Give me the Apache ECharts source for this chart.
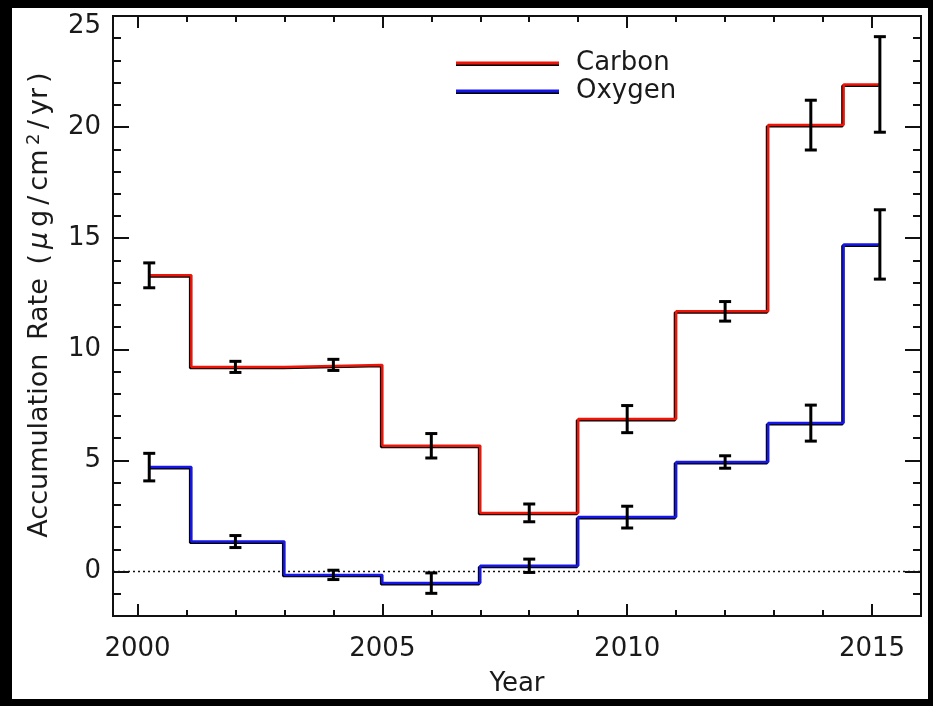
<!DOCTYPE html>
<html>
<head>
<meta charset="utf-8">
<script src="https://cdn.jsdelivr.net/npm/echarts@6/dist/echarts.min.js"></script>
<style>
html,body{margin:0;padding:0;background:#000;}
#c{width:933px;height:706px;}
</style>
</head>
<body>
<div id="c"></div>
<script>
// ---- data ----
const stepEdges = [2000.24, 2001.10, 2003.00, 2005.00, 2007.00, 2009.00, 2011.00, 2012.88, 2014.42, 2015.16];
const carbon = [13.33, 9.21, 9.30, 5.66, 2.64, 6.86, 11.71, 20.09, 21.92];
const oxygen = [4.70, 1.35, -0.15, -0.52, 0.26, 2.45, 4.93, 6.68, 14.72];
const errYears = [2000.24, 2002.0, 2004.0, 2006.0, 2008.0, 2010.0, 2012.0, 2013.75, 2015.16];
const carbonErr = [0.56, 0.25, 0.25, 0.55, 0.40, 0.61, 0.44, 1.12, 2.15];
const oxygenErr = [0.62, 0.27, 0.21, 0.46, 0.30, 0.49, 0.28, 0.81, 1.56];
const xMajorTicks = [2000, 2005, 2010, 2015];
const xMinorTicks = [2000, 2001, 2002, 2003, 2004, 2005, 2006, 2007, 2008, 2009, 2010, 2011, 2012, 2013, 2014, 2015, 2016];
const yMajorTicks = [0, 5, 10, 15, 20, 25];
const yMinorTicks = [-2, -1, 0, 1, 2, 3, 4, 5, 6, 7, 8, 9, 10, 11, 12, 13, 14, 15, 16, 17, 18, 19, 20, 21, 22, 23, 24, 25];

function stepData(vals) {
  const d = vals.map((v, i) => [stepEdges[i], v]);
  d.push([stepEdges[stepEdges.length - 1], vals[vals.length - 1]]);
  return d;
}
function errData(vals, errs) {
  return errYears.map((x, i) => [x, vals[i], errs[i]]);
}

const FONT = 'DejaVu Sans';
const TXT = '#1a1a1a';
const chart = echarts.init(document.getElementById('c'));

function xAx(pos, ticks, len, labels) {
  return {
    type: 'value', position: pos, min: 1999.5, max: 2016, gridIndex: 0,
    axisLine: { show: true, onZero: false, lineStyle: { color: '#111', width: 2 } },
    axisTick: { show: true, inside: true, length: len, customValues: ticks, lineStyle: { color: '#111', width: 2 } },
    axisLabel: labels ? { show: true, customValues: ticks, formatter: v => String(v), fontFamily: FONT, fontSize: 26, color: TXT, margin: 20 } : { show: false },
    splitLine: { show: false }
  };
}
function yAx(pos, ticks, len, labels) {
  return {
    type: 'value', position: pos, min: -2, max: 25, gridIndex: 0,
    axisLine: { show: true, onZero: false, lineStyle: { color: '#111', width: 2 } },
    axisTick: { show: true, inside: true, length: len, customValues: ticks, lineStyle: { color: '#111', width: 2 } },
    axisLabel: labels ? {
      show: true, customValues: ticks, fontFamily: FONT, fontSize: 26, color: TXT, margin: 12,
      formatter: v => v === 25 ? '{t|25}' : String(v),
      rich: { t: { fontFamily: FONT, fontSize: 26, color: TXT, padding: [20, 0, 0, 0] } }
    } : { show: false },
    splitLine: { show: false }
  };
}

const xAxes = [xAx('bottom', xMajorTicks, 12, true), xAx('bottom', xMinorTicks, 6, false), xAx('top', xMajorTicks, 12, false), xAx('top', xMinorTicks, 6, false)];
xAxes[0].name = 'Year';
xAxes[0].nameLocation = 'middle';
xAxes[0].nameGap = 55;
xAxes[0].nameTextStyle = { fontFamily: FONT, fontSize: 26, color: TXT };

const yAxes = [yAx('left', yMajorTicks, 16, true), yAx('left', yMinorTicks, 8, false), yAx('right', yMajorTicks, 16, false), yAx('right', yMinorTicks, 8, false)];
const T = { fontFamily: FONT, fontSize: 27, color: TXT, padding: [0, 2.5] };
yAxes[0].name = '{a|Accumulation} {a|Rate} {a|(}{i|μ}{a|g}{a|/}{a|cm}{s|2}{a|/}{a|yr}{a|)}';
yAxes[0].nameLocation = 'middle';
yAxes[0].nameGap = 58;
yAxes[0].nameTextStyle = {
  fontFamily: FONT, fontSize: 27, color: TXT, padding: [0, 0, 0, 22],
  rich: {
    a: T,
    i: Object.assign({}, T, { fontStyle: 'italic' }),
    s: { fontFamily: FONT, fontSize: 18, color: TXT, padding: [0, 2], verticalAlign: 'top', lineHeight: 30 }
  }
};

function errRender(params, api) {
  const x = api.value(0), y = api.value(1), e = api.value(2);
  const top = api.coord([x, y + e]);
  const bot = api.coord([x, y - e]);
  const hw = 6;
  const st = { stroke: '#000', lineWidth: 3 };
  return {
    type: 'group',
    children: [
      { type: 'line', shape: { x1: top[0], y1: top[1], x2: bot[0], y2: bot[1] }, style: st },
      { type: 'line', shape: { x1: top[0] - hw, y1: top[1], x2: top[0] + hw, y2: top[1] }, style: st },
      { type: 'line', shape: { x1: bot[0] - hw, y1: bot[1], x2: bot[0] + hw, y2: bot[1] }, style: st }
    ]
  };
}

const RED = '#ee1508';
const BLUE = '#1616e8';

chart.setOption({
  backgroundColor: '#000',
  animation: false,
  graphic: [{ type: 'rect', shape: { x: 12, y: 8, width: 916, height: 691 }, style: { fill: '#fff' }, z: -10, silent: true }],
  grid: { left: 113, top: 16, right: 12, bottom: 90, containLabel: false },
  xAxis: xAxes,
  yAxis: yAxes,
  legend: {
    data: ['Carbon', 'Oxygen'],
    orient: 'vertical', left: 456, top: 49, padding: 0,
    icon: 'rect', itemWidth: 103, itemHeight: 3, itemGap: 0,
    textStyle: { fontFamily: FONT, fontSize: 26, color: TXT, lineHeight: 28, padding: [0, 0, 0, 12] },
    itemStyle: { shadowColor: '#000', shadowBlur: 0, shadowOffsetX: 0, shadowOffsetY: 1.5 }
  },
  series: [
    {
      name: 'zero', type: 'line', data: [[1999.5, 0], [2016, 0]], symbol: 'none', silent: true, z: 1,
      lineStyle: { color: '#111', width: 1.5, type: [2, 3] }
    },
    {
      name: 'Carbon', type: 'line', step: 'end', data: stepData(carbon), symbol: 'none', z: 3,
      itemStyle: { color: RED },
      lineStyle: { color: RED, width: 2.5, shadowColor: '#000', shadowBlur: 0, shadowOffsetX: -1.2, shadowOffsetY: 1.2 }
    },
    {
      name: 'Oxygen', type: 'line', step: 'end', data: stepData(oxygen), symbol: 'none', z: 3,
      itemStyle: { color: BLUE },
      lineStyle: { color: BLUE, width: 2.5, shadowColor: '#000', shadowBlur: 0, shadowOffsetX: -1.2, shadowOffsetY: 1.2 }
    },
    { name: 'carbonErr', type: 'custom', renderItem: errRender, data: errData(carbon, carbonErr), z: 5, silent: true },
    { name: 'oxygenErr', type: 'custom', renderItem: errRender, data: errData(oxygen, oxygenErr), z: 5, silent: true }
  ]
});
</script>
</body>
</html>
